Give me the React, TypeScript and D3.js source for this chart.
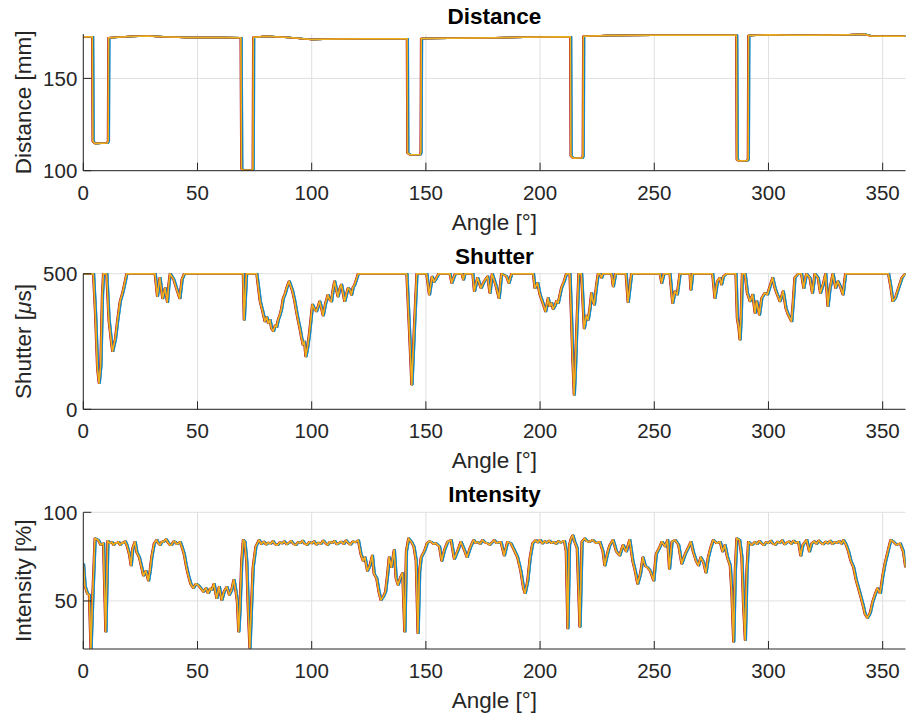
import React from "react";
import * as d3 from "d3";

// ---------- data (angle [deg], value) ----------
const distancePoints: [number, number][] = [
  [0,172.5],[4,172.5],[4.2,116],[5,114.8],[10.5,115],[10.9,116],[11.1,172],[15,172.3],[20,172.7],[28,173],[35,172.5],[45,172.2],[60,172.2],[69,172],[69.3,101],[70,100.3],[74,100.3],[74.3,101],[74.5,172.3],[80,172.8],[90,172.2],[100,171.1],[110,171.4],[125,171.5],[141.8,171.5],[142,109.5],[143,108.7],[147.5,108.8],[147.8,110],[148,171.6],[160,171.8],[180,172],[200,172.4],[213.3,172.5],[213.5,108],[214.5,106.8],[218.5,107],[218.8,108],[219,172.8],[230,173.2],[250,173.4],[286,173.4],[286.2,106],[287,105.3],[290.8,105.5],[291.1,106.5],[291.3,173.3],[300,173.6],[310,173.4],[320,173.4],[335,173.7],[342,173.9],[345,173],[350,172.8],[360,172.8]
];

const shutterPoints: [number, number][] = [
  [0,500],[4.4,500],[5.3,350],[6.2,150],[6.9,97],[7.6,160],[8.3,420],[8.8,500],[10.2,500],[11.2,330],[12.4,238],[12.8,214],[14,260],[15,330],[16.1,398],[17.2,430],[18.3,472],[19,500],[31.4,500],[32.4,417],[33.5,485],[34.2,440],[34.7,409],[35.8,447],[36.8,395],[37.4,460],[38,500],[39.5,480],[41,440],[42.2,409],[43.2,480],[44.2,500],[70,500],[70.4,330],[71.4,500],[75.9,500],[77.4,398],[78.5,361],[79.5,324],[80.3,340],[81,317],[81.7,330],[82.4,298],[83.2,288],[84,310],[84.6,303],[85.3,330],[86,346],[86.8,372],[87.5,410],[88.3,425],[89,447],[90.1,472],[91.6,435],[92.5,400],[93.3,361],[94,330],[94.8,298],[95.5,265],[96.2,238],[96.8,250],[97.4,195],[98.2,230],[98.9,275],[99.6,330],[100.3,386],[101.2,370],[102,361],[102.8,380],[103.5,398],[104.2,375],[105,346],[106,390],[107.1,422],[107.8,405],[108.6,398],[109.3,440],[110,472],[110.8,440],[111.5,416],[112.3,445],[113,460],[113.7,430],[114.4,398],[115.2,425],[115.9,447],[116.7,440],[117.4,422],[118.1,450],[118.8,460],[119.6,480],[120.3,500],[141.6,500],[142.7,300],[143.8,91],[144.9,300],[146,500],[150.3,500],[151.5,423],[152.7,490],[153.5,470],[154.2,478],[155.6,500],[160.5,500],[161.3,466],[162.8,500],[165.8,500],[166.4,478],[167,500],[170.5,500],[171.2,435],[172.6,485],[174.1,447],[175.5,472],[177,490],[178,429],[179,500],[180.5,460],[182,410],[183.1,500],[185.3,490],[186.3,466],[187.5,500],[197,500],[197.7,447],[198.9,466],[199.9,423],[201.4,386],[202.4,361],[203.5,410],[204.2,380],[205,392],[205.7,370],[206.4,380],[207.2,400],[207.9,392],[208.6,420],[209.3,447],[210.5,472],[211.5,500],[213,500],[213.7,336],[214.3,180],[214.9,54],[215.4,150],[215.9,275],[216.9,500],[218.1,500],[219.3,298],[220.3,346],[221,330],[221.8,373],[222.5,429],[223.1,400],[223.7,386],[224.7,460],[225.4,500],[226.2,500],[226.9,485],[227.5,500],[231.3,500],[232,453],[233,500],[237.6,500],[238.5,395],[239.3,450],[240,500],[252.5,500],[253.2,466],[254.2,500],[256.8,500],[258,392],[259,435],[260,423],[261.2,500],[265.6,500],[266,441],[266.7,500],[275.5,500],[276.5,410],[277.6,472],[278.7,485],[279.4,460],[280.2,490],[281.7,500],[285.7,500],[286.3,336],[287,300],[287.5,257],[288,350],[288.5,500],[289.7,500],[290.7,429],[291.9,398],[293.1,423],[294.1,355],[294.8,398],[296,349],[297,410],[298.4,429],[299.5,423],[300.6,453],[301.8,485],[302.8,447],[303.8,423],[305,398],[306.4,435],[307.6,373],[308.6,349],[310.1,324],[310.8,398],[311.5,485],[313,500],[314.4,500],[315.4,447],[316.6,500],[318.1,485],[319.2,429],[320.3,500],[321.7,485],[322.7,429],[323.9,460],[325,500],[326,380],[326.8,441],[328.2,500],[329.4,447],[330.4,472],[331.4,453],[332.6,423],[333.7,500],[352.5,500],[353.6,447],[354.4,398],[355.5,410],[356.9,447],[358.4,485],[359.9,500],[360,500]
];

const intensityPoints: [number, number][] = [
  [0,71],[0.7,58.5],[1.8,54],[2.6,53.5],[3.3,23],[4.1,53],[5.1,85.3],[6.5,84.4],[7.6,81.6],[8.8,82.5],[9.8,32.7],[10.7,84],[11.7,82.5],[12.5,83.2],[13.2,81.6],[14,82.8],[14.6,82.5],[15.4,83.4],[16.1,81.6],[17,82.9],[17.5,82.5],[18.3,83.6],[19,81.6],[20.1,76.5],[20.9,70],[21.6,79.7],[22.6,83.4],[23.4,77.4],[24.5,74.6],[25.5,69],[26.3,64.3],[27.4,67],[28.5,61.5],[29.2,67],[29.9,74.6],[31,82.5],[32.1,84.4],[32.8,82.6],[33.6,81.6],[34.4,83.5],[35.1,83.4],[36.2,84.8],[37.3,82.5],[38,81.4],[38.7,81.6],[39.5,83.6],[40.2,83.4],[41,82],[41.6,82.5],[42.4,83.3],[43.1,80.7],[44.1,76.5],[45,70],[46,64.3],[47,59.7],[48.2,57.2],[49.3,59.7],[50.4,58.8],[51.4,57.2],[52.6,55.2],[53.7,57.2],[54.7,54.3],[55.5,57],[56.2,56.1],[57.2,59.7],[58.4,51.5],[59.5,58],[60.6,50.5],[61.6,55.2],[62.8,58],[63.9,53.5],[64.9,56.1],[65.9,62],[66.8,55.2],[67.4,49.6],[68,32.7],[68.5,44],[69.3,72.2],[70,84.4],[70.7,83.4],[71.5,72.2],[72.2,44],[72.9,23.5],[73.6,47.5],[74.3,69],[75.5,80.7],[76.9,84.4],
  [78,82.1],[79,83.5],[80,81.8],[81,82.9],[82,82.3],[83,83.8],[84,82],[85,81.4],[86,83.1],[87,82.4],[88,83.6],[89,81.9],[90,82.7],[91,83.9],[92,82.2],[93,81.5],[94,83.2],[95,82.6],[96,84],[97,82.1],[98,81.7],[99,83.3],[100,82.4],[101,83.7],[102,81.8],[103,82.9],[104,82.2],[105,84.1],[106,82.5],[107,81.6],[108,83.4],[109,82.7],[110,83.9],[111,81.9],[112,82.8],[113,83.5],[114,82.1],[115,84.2],[116,82.6],[117,81.8],[118,83.6],[119,83],[120.4,84.2],
  [121.5,76.5],[122.5,72.7],[123.3,74.6],[124.4,67],[125.4,69.8],[126.5,75.6],[127.3,65.3],[128.4,62.8],[129.4,55.2],[130.3,50.5],[131.3,52.4],[132.3,55.2],[133.2,65.3],[133.9,74.6],[134.9,69],[136.1,78.8],[136.9,62.8],[137.8,59.1],[139,63.8],[139.8,65.7],[140.7,32.7],[141.4,77.9],[142.4,85.3],[143.6,83.4],[144.7,80.7],[145.7,72.7],[146.5,31.8],[147.2,67],[147.9,74.6],[149.4,78.3],[150.5,82.5],[151.4,83.6],[152.3,83.4],[153.3,82.1],[154.4,82.5],[155.9,80.7],[156.9,72.7],[158.1,78.8],[159.5,83.4],[161,84.4],[162.4,73.7],[163.9,78.3],[165.3,83.4],[166.8,78.8],[168,74.6],[169.4,80.2],[170.9,84.4],[171.8,82.6],[172.6,83.4],[173.7,82.1],[174.8,84.4],[175.9,83],[177,82.5],[178,81.7],[179.9,84.4],[181,82.6],[182.8,83.4],[184.3,75.6],[185.7,83.4],[187.2,82.5],[188.6,78.8],[190.1,74.6],[191.5,67],[192.7,57.2],[193.4,54.3],[194.5,61],[195.6,74.6],[196.7,82.5],[198.1,84.4],[199,83],[200,84.5],[201,82.4],[202,83.7],[203,82.8],[204,84.1],[205,82.5],[206,83.4],[207,82.2],[208,83.8],[209,82.9],[210.6,84],[211.4,77.9],[212.1,34.5],[212.8,81.6],[213.6,85.3],[214.3,87],[215.1,83.4],[216.2,79.7],[217.4,35.4],[218.3,83.4],[219.5,85.3],[220.5,83.7],[221.7,83.4],[223.1,84.4],[224.6,82.5],[226.1,83.4],[227.5,77.9],[228.3,70],[229.4,76.5],[230.4,81.2],[231.9,84.4],[233.4,77.9],[234.8,75.6],[236.3,81.6],[237.7,77.9],[239.2,84.4],[240.6,72.2],[241.6,67],[242.7,59.7],[243.9,65.3],[245,74.6],[246,69.8],[247.1,68.8],[248.2,67],[249.7,61.5],[250.8,76.5],[252.3,80.2],[253.3,83.4],[254.8,80.7],[255.8,84.4],[256.6,68.2],[257.7,83.4],[259.1,84.4],[260.6,81.6],[262,71],[263.5,76.5],[264.9,80.2],[266,83.4],[267.1,77.4],[268.3,72.7],[269.3,70],[270.3,74.6],[271.5,71.9],[272.6,66],[273.6,74.6],[274.7,80.2],[275.8,84.4],[277.3,82.5],[278.8,83.4],[279.9,77.9],[280.9,81.6],[282,74.6],[283.2,70],[283.9,55.2],[284.7,27],[285.4,67],[286.1,85.3],[287.3,84.4],[288.3,74.6],[289,48.5],[289.8,28],[290.5,67],[291.2,83.4],[292.7,81.6],
  [294,83.2],[295,82.1],[296,83.9],[297,82.4],[298,81.5],[299,83.3],[300,82.6],[301,84],[302,82.2],[303,81.7],[304,83.5],[305,82.8],[306,84.2],[307,81.9],[308,82.9],[309,83.6],[310,82.3],[311,84],[312,82.5],[313.1,83.4],[314.1,75.6],[315,81.6],[316.7,84.4],[317.9,77.9],[318.9,82.5],[320,83.6],[321,82.2],[322,84.1],[323,82.7],[324,81.9],[325,83.5],[326,82.4],[327,84],[328,82.1],[329,83.3],[330,82.6],[331,83.8],[332,82.3],[332.8,84.4],[334,81.6],[335,77.9],[336,72.7],[337.2,69],[338.4,61.5],[339.8,55.2],[341.3,48],[342.3,42.4],[343.3,40.5],[344.5,43.3],[345.6,49.6],[346.6,53.5],[347.7,57.2],[348.9,54.3],[350,64.3],[351,71.2],[352.5,79.2],[353.5,84.4],[354.7,83.4],[356.1,81.6],[357.6,82.5],[359,77.9],[359.9,70],[360,69]
];

// series (MATLAB colour order) and their small angular offsets [deg]
const seriesColors = ["#0072BD","#D95319","#EDB120","#7E2F8E","#77AC30","#4DBEEE","#A2142F","#0072BD","#D95319","#EDB120"];
const seriesOffsets = [0.5, 0.1, 0.2, 0.15, 0.25, 0.45, -0.3, 0.35, -0.1, 0];

const xTicks = [0, 50, 100, 150, 200, 250, 300, 350];
const distanceTicks = [100, 150];
const shutterTicks = [0, 500];
const intensityTicks = [50, 100];

// ---------- layout ----------
const W = 908, H = 715;
const X0 = 83.3, X1 = 905.5;
const FONT = "'Liberation Sans', Arial, Helvetica, sans-serif";
const AXIS = "#262626";
const GRID = "#dfdfdf";

type PanelDef = {
  id: string;
  title: string;
  ylabel: React.ReactNode;
  points: [number, number][];
  domain: [number, number];
  top: number;
  bottom: number;
  yTicks: number[];
};

const panels: PanelDef[] = [
  { id: "d", title: "Distance", ylabel: "Distance [mm]", points: distancePoints, domain: [100, 174], top: 34.1, bottom: 170.7, yTicks: distanceTicks },
  { id: "s", title: "Shutter", ylabel: (<>Shutter [<tspan fontStyle="italic">μ</tspan>s]</>), points: shutterPoints, domain: [0, 500], top: 273.7, bottom: 409.3, yTicks: shutterTicks },
  { id: "i", title: "Intensity", ylabel: "Intensity [%]", points: intensityPoints, domain: [22.9, 100], top: 512.3, bottom: 649, yTicks: intensityTicks },
];

const x = d3.scaleLinear().domain([0, 360]).range([X0, X1]);

function Panel({ p }: { p: PanelDef }) {
  const y = d3.scaleLinear().domain(p.domain).range([p.bottom, p.top]);
  const midY = (p.top + p.bottom) / 2;
  const clipId = "clip-" + p.id;
  return (
    <g>
      <defs>
        <clipPath id={clipId}>
          <rect x={X0} y={p.top - 1} width={X1 - X0} height={p.bottom - p.top + 1} />
        </clipPath>
      </defs>
      {xTicks.map((t) => (
        <line key={"gx" + t} x1={x(t)} x2={x(t)} y1={p.top} y2={p.bottom} stroke={GRID} strokeWidth={1} />
      ))}
      {p.yTicks.map((t) => (
        <line key={"gy" + t} x1={X0} x2={X1} y1={y(t)} y2={y(t)} stroke={GRID} strokeWidth={1} />
      ))}
      <g clipPath={`url(#${clipId})`}>
        {seriesColors.map((c, i) => {
          const line = d3
            .line<[number, number]>()
            .x((d) => x(Math.min(360, Math.max(0, d[0] + seriesOffsets[i]))))
            .y((d) => y(d[1]));
          return <path key={i} d={line(p.points) || ""} fill="none" stroke={c} strokeWidth={1.5} strokeLinejoin="round" />;
        })}
      </g>
      <line x1={X0} x2={X1} y1={p.bottom} y2={p.bottom} stroke={AXIS} strokeWidth={1} />
      <line x1={X0} x2={X0} y1={p.top} y2={p.bottom} stroke={AXIS} strokeWidth={1} />
      {xTicks.map((t) => (
        <g key={"tx" + t}>
          <line x1={x(t)} x2={x(t)} y1={p.bottom} y2={p.bottom - 8} stroke={AXIS} strokeWidth={1} />
          <text x={x(t)} y={p.bottom + 29} textAnchor="middle" fontSize={20.5} fill={AXIS} fontFamily={FONT}>{t}</text>
        </g>
      ))}
      {p.yTicks.map((t) => (
        <g key={"ty" + t}>
          <line x1={X0} x2={X0 + 8} y1={y(t)} y2={y(t)} stroke={AXIS} strokeWidth={1} />
          <text x={X0 - 6} y={y(t)} dy="0.36em" textAnchor="end" fontSize={20.5} fill={AXIS} fontFamily={FONT}>{t}</text>
        </g>
      ))}
      <text x={(X0 + X1) / 2} y={p.bottom + 59} textAnchor="middle" fontSize={22.5} fill={AXIS} fontFamily={FONT}>Angle [°]</text>
      <text x={(X0 + X1) / 2} y={p.top - 10} textAnchor="middle" fontSize={22.5} fontWeight="bold" fill="#000" fontFamily={FONT}>{p.title}</text>
      <text transform={`translate(31,${midY}) rotate(-90)`} textAnchor="middle" fontSize={22.5} fill={AXIS} fontFamily={FONT}>{p.ylabel}</text>
    </g>
  );
}

export default function App() {
  return (
    <svg width={W} height={H} style={{ position: "absolute", left: 0, top: 0, background: "#fff" }}>
      <rect width={W} height={H} fill="#fff" />
      {panels.map((p) => (
        <Panel key={p.id} p={p} />
      ))}
    </svg>
  );
}
